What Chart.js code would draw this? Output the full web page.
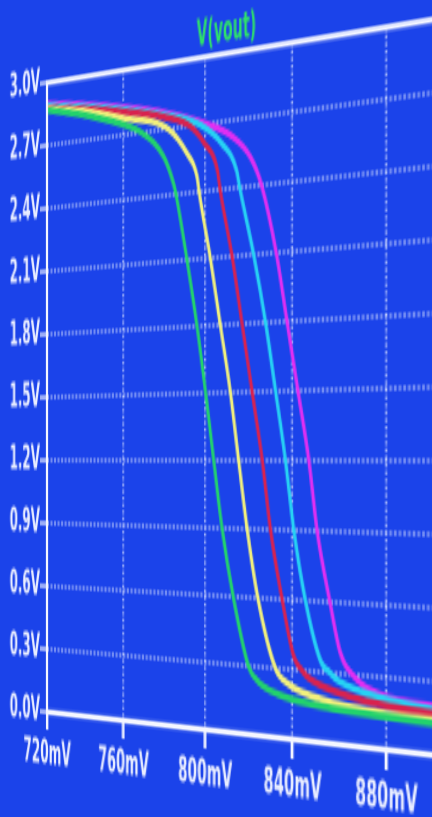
<!DOCTYPE html>
<html>
<head>
<meta charset="utf-8">
<script src="https://cdn.jsdelivr.net/npm/chart.js@4.4.1/dist/chart.umd.min.js"></script>
<style>
html, body { margin: 0; padding: 0; width: 432px; height: 817px; overflow: hidden; background: #1b43ea; }
#plot { position: absolute; left: 0; top: 0; transform-origin: 0 0; }
</style>
</head>
<body>
<canvas id="plot" width="390" height="300"></canvas>
<script>
// Ticks
const X_TICKS = [720, 760, 800, 840, 880]
const Y_TICKS = [0, 0.3, 0.6, 0.9, 1.2, 1.5, 1.8, 2.1, 2.4, 2.7, 3.0]

// Courbes V(vout) en fonction de l'entree (mV)
const GREEN_X   = [720, 740, 760, 769.4, 780.1, 785.0, 786.2, 791.5, 796.3, 800.4, 804.2, 808.1, 813.3, 820.3, 824.3, 833.3, 853.6, 878.8, 900]
const GREEN_Y   = [2.87, 2.82, 2.75, 2.70, 2.58, 2.45, 2.40, 2.10, 1.80, 1.50, 1.20, 0.90, 0.60, 0.30, 0.24, 0.19, 0.154, 0.137, 0.128]
const YELLOW_X  = [720, 740, 760, 782.6, 791.5, 796.3, 797.3, 802.6, 807.3, 812.0, 815.8, 819.7, 824.6, 832.5, 837.8, 853.6, 878.8, 900]
const YELLOW_Y  = [2.875, 2.84, 2.78, 2.70, 2.58, 2.47, 2.40, 2.10, 1.80, 1.50, 1.20, 0.90, 0.60, 0.30, 0.24, 0.183, 0.151, 0.143]
const RED_X     = [720, 740, 760, 780, 793.1, 799.5, 805.9, 807.2, 812.8, 817.4, 822.0, 826.6, 830.3, 835.5, 840.6, 844.3, 846.6, 860.8, 882.4, 900]
const RED_Y     = [2.88, 2.85, 2.81, 2.76, 2.70, 2.62, 2.49, 2.40, 2.10, 1.80, 1.50, 1.20, 0.90, 0.60, 0.36, 0.30, 0.275, 0.217, 0.181, 0.170]
const CYAN_X    = [720, 740, 760, 780, 797.9, 808.0, 814.8, 816.3, 822.7, 828.1, 832.6, 837.0, 840.7, 845.8, 852.3, 856.5, 859.5, 876.4, 900]
const CYAN_Y    = [2.89, 2.86, 2.82, 2.77, 2.70, 2.605, 2.48, 2.40, 2.10, 1.80, 1.50, 1.20, 0.90, 0.60, 0.35, 0.30, 0.273, 0.217, 0.184]
const MAGENTA_X = [720, 740, 760, 780, 801.0, 812.9, 821.2, 826.3, 832.9, 837.7, 842.5, 847.3, 850.9, 856.4, 860.8, 866.0, 876.4, 900]
const MAGENTA_Y = [2.90, 2.87, 2.83, 2.78, 2.70, 2.63, 2.53, 2.40, 2.10, 1.80, 1.50, 1.20, 0.90, 0.60, 0.39, 0.30, 0.231, 0.197]

const SERIES = [
    { x: GREEN_X,   y: GREEN_Y,   color: '#22d26c' },
    { x: YELLOW_X,  y: YELLOW_Y,  color: '#f2f07c' },
    { x: RED_X,     y: RED_Y,     color: '#d8224e' },
    { x: CYAN_X,    y: CYAN_Y,    color: '#26d2f4' },
    { x: MAGENTA_X, y: MAGENTA_Y, color: '#e02ef2' }
]

const FONT = '"Liberation Sans Narrow", "DejaVu Sans Condensed", "Liberation Sans", sans-serif'
const LABEL = '#eaeeff'
const GRID = 'rgba(235,240,255,0.85)'

// ou tombent les coins de la zone de trace sur la photo
const CORNERS = [[47, 83], [435.8, 19.4], [47, 712], [435.8, 755.4]]

// cadre blanc (haut, gauche, bas)
const frame = {
    id: 'frame',
    afterDatasetsDraw(c) {
        const { ctx, chartArea: a } = c
        ctx.save()
        ctx.strokeStyle = '#f4f6ff'
        ctx.lineWidth = 2.2
        ctx.beginPath()
        ctx.moveTo(a.right + 30, a.top)
        ctx.lineTo(a.left, a.top)
        ctx.lineTo(a.left, a.bottom)
        ctx.lineTo(a.right + 30, a.bottom)
        ctx.stroke()
        ctx.restore()
    }
}

const canvas = document.getElementById('plot')
const chart = new Chart(canvas, {
    type: 'line',
    data: {
        datasets: SERIES.map(s => ({
            data: s.x.map((x, i) => ({ x, y: s.y[i] })),
            borderColor: s.color,
            borderWidth: 2.6,
            pointRadius: 0,
            cubicInterpolationMode: 'monotone',
            fill: false
        }))
    },
    options: {
        responsive: false,
        animation: false,
        devicePixelRatio: 2,
        layout: { padding: { left: 0, right: 12, top: 4, bottom: 2 } },
        plugins: {
            legend: { display: false },
            tooltip: { enabled: false },
            title: {
                display: true,
                text: 'V(vout)',
                color: '#2ee06a',
                fullSize: false,
                font: { family: FONT, size: 13.5, weight: 'bold' },
                padding: { top: 0, bottom: 0 }
            }
        },
        scales: {
            x: {
                type: 'linear',
                min: 720,
                max: 900,
                afterBuildTicks: s => { s.ticks = X_TICKS.map(v => ({ value: v })) },
                afterFit: s => { s.height = 28 },
                ticks: {
                    color: LABEL,
                    font: { family: FONT, size: 13.5, weight: 'bold' },
                    padding: 2,
                    maxRotation: 0,
                    autoSkip: false,
                    callback: v => v + 'mV'
                },
                grid: { color: GRID, lineWidth: 1.3, tickLength: 7, tickColor: '#f2f4ff', tickWidth: 2.4 },
                border: { display: false, dash: [1.3, 1.3] }
            },
            y: {
                min: 0,
                max: 3,
                afterBuildTicks: s => { s.ticks = Y_TICKS.map(v => ({ value: v })) },
                afterFit: s => { s.width = 46 },
                ticks: {
                    color: LABEL,
                    font: { family: FONT, size: 13.5, weight: 'bold' },
                    padding: 0,
                    callback: v => v.toFixed(1) + 'V'
                },
                grid: { color: GRID, lineWidth: 1.05, tickLength: 7, tickColor: '#f2f4ff', tickWidth: 1.2 },
                border: { display: false, dash: [2, 1.5] }
            }
        }
    },
    plugins: [frame]
})

// -- perspective : homographie zone de trace -> photo --
function homography(src, dst) {
    const A = [], b = []
    for (let i = 0; i < 4; i++) {
        const [x, y] = src[i], [X, Y] = dst[i]
        A.push([x, y, 1, 0, 0, 0, -x * X, -y * X]); b.push(X)
        A.push([0, 0, 0, x, y, 1, -x * Y, -y * Y]); b.push(Y)
    }
    for (let c = 0; c < 8; c++) {
        let p = c
        for (let r = c + 1; r < 8; r++) if (Math.abs(A[r][c]) > Math.abs(A[p][c])) p = r
        ;[A[c], A[p]] = [A[p], A[c]]
        ;[b[c], b[p]] = [b[p], b[c]]
        for (let r = 0; r < 8; r++) {
            if (r === c) continue
            const f = A[r][c] / A[c][c]
            for (let k = c; k < 8; k++) A[r][k] -= f * A[c][k]
            b[r] -= f * b[c]
        }
    }
    return b.map((v, i) => v / A[i][i])
}

const a = chart.chartArea
const h = homography([[a.left, a.top], [a.right, a.top], [a.left, a.bottom], [a.right, a.bottom]], CORNERS)
canvas.style.transform = 'matrix3d(' + [h[0], h[3], 0, h[6], h[1], h[4], 0, h[7], 0, 0, 1, 0, h[2], h[5], 0, 1].join(',') + ')'
</script>
</body>
</html>
